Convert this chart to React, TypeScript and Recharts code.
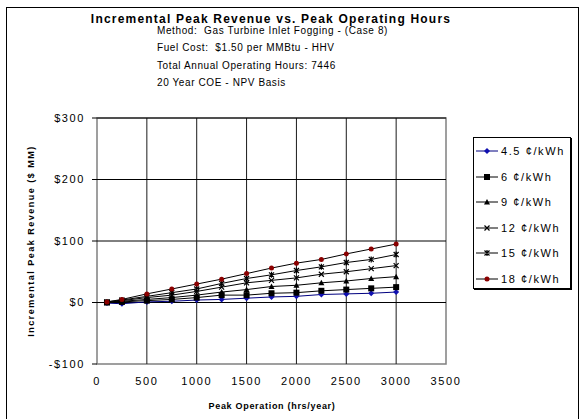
import { LineChart, Line, XAxis, YAxis, ReferenceLine, ReferenceArea } from "recharts";

const hours = [100, 250, 500, 750, 1000, 1250, 1500, 1750, 2000, 2250, 2500, 2750, 3000];
const rev45 = [-1, -2, 1, 2, 4, 5, 7, 9, 10, 13, 14, 15, 17];
const rev6 = [0, 1, 3, 5, 8, 12, 12, 15, 16, 19, 21, 23, 25];
const rev9 = [0, 2, 5, 8, 12, 17, 21, 26, 28, 32, 35, 39, 42];
const rev12 = [0, 3, 8, 12, 18, 25, 32, 36, 40, 46, 50, 55, 60];
const rev15 = [1, 4, 10, 16, 22, 31, 39, 45, 52, 58, 65, 70, 78];
const rev18 = [1, 5, 14, 22, 30, 38, 47, 56, 64, 70, 79, 87, 95];

const xTicks = [0, 500, 1000, 1500, 2000, 2500, 3000, 3500];
const yTicks = [-100, 0, 100, 200, 300];

const titleText = "Incremental Peak Revenue vs. Peak Operating Hours";
const subtitleLines = [
  "Method:  Gas Turbine Inlet Fogging - (Case 8)",
  "Fuel Cost:  $1.50 per MMBtu - HHV",
  "Total Annual Operating Hours: 7446",
  "20 Year COE - NPV Basis",
];

const series = [
  { key: "c45", name: "4.5 ¢/kWh", values: rev45, line: "#000080", shape: "diamond", color: "#1010b0" },
  { key: "c6", name: "6 ¢/kWh", values: rev6, line: "#000", shape: "square", color: "#000" },
  { key: "c9", name: "9 ¢/kWh", values: rev9, line: "#000", shape: "triangle", color: "#000" },
  { key: "c12", name: "12 ¢/kWh", values: rev12, line: "#000", shape: "x", color: "#000" },
  { key: "c15", name: "15 ¢/kWh", values: rev15, line: "#000", shape: "star", color: "#000" },
  { key: "c18", name: "18 ¢/kWh", values: rev18, line: "#000", shape: "circle", color: "#8b0000" },
];

const data = hours.map((h, i) => {
  const row: Record<string, number> = { h };
  series.forEach((s) => (row[s.key] = s.values[i]));
  return row;
});

const font = '"Liberation Sans", Arial, sans-serif';

function Marker({ shape, color, cx, cy }: { shape: string; color: string; cx: number; cy: number }) {
  if (cx == null || cy == null) return null;
  switch (shape) {
    case "diamond":
      return <path d={`M${cx},${cy - 3}L${cx + 3},${cy}L${cx},${cy + 3}L${cx - 3},${cy}Z`} fill={color} />;
    case "square":
      return <rect x={cx - 3} y={cy - 3} width={6} height={6} fill={color} />;
    case "triangle":
      return <path d={`M${cx},${cy - 3}L${cx + 3},${cy + 2.5}L${cx - 3},${cy + 2.5}Z`} fill={color} />;
    case "x":
      return (
        <path d={`M${cx - 2.5},${cy - 2.5}L${cx + 2.5},${cy + 2.5}M${cx + 2.5},${cy - 2.5}L${cx - 2.5},${cy + 2.5}`} stroke={color} strokeWidth={1.2} />
      );
    case "star":
      return (
        <path
          d={`M${cx - 2.5},${cy - 2.5}L${cx + 2.5},${cy + 2.5}M${cx + 2.5},${cy - 2.5}L${cx - 2.5},${cy + 2.5}M${cx},${cy - 3}L${cx},${cy + 3}`}
          stroke={color}
          strokeWidth={1.2}
        />
      );
    default:
      return <circle cx={cx} cy={cy} r={2.5} fill={color} />;
  }
}

const money = (v: number) => (v < 0 ? `-$${-v}` : `$${v}`);

export default function App() {
  return (
    <div style={{ position: "absolute", left: 0, top: 0, width: 583, height: 419, background: "#fff", fontFamily: font, overflow: "hidden" }}>
      <div style={{ position: "absolute", left: 6, top: 7, width: 573, height: 420, border: "1px solid #000", boxSizing: "border-box" }} />

      <div style={{ position: "absolute", left: 271, top: 19, transform: "translate(-50%, -50%)", whiteSpace: "nowrap", fontSize: 12, fontWeight: "bold", letterSpacing: 1.2, lineHeight: "14px" }}>
        {titleText}
      </div>
      {subtitleLines.map((t, i) => (
        <div key={t} style={{ position: "absolute", left: 157, top: [25, 42, 60, 77][i], fontSize: 10, letterSpacing: 0.6, lineHeight: "12px", whiteSpace: "pre" }}>
          {t}
        </div>
      ))}

      <LineChart width={583} height={419} data={data} margin={{ top: 118, right: 137, left: 37, bottom: 25 }} style={{ position: "absolute", left: 0, top: 0 }}>
        <XAxis
          dataKey="h"
          type="number"
          domain={[0, 3500]}
          ticks={xTicks}
          interval={0}
          axisLine={false}
          tickLine={false}
          tickSize={5}
          tickMargin={8}
          height={30}
          tick={{ fill: "#000", fontSize: 11, fontFamily: font, letterSpacing: 1.6 }}
        />
        <YAxis
          type="number"
          domain={[-100, 300]}
          ticks={yTicks}
          interval={0}
          width={60}
          tickFormatter={money}
          axisLine={false}
          tickLine={{ stroke: "#000" }}
          tickSize={5}
          tickMargin={7}
          tick={{ fill: "#000", fontSize: 11, fontFamily: font, letterSpacing: 1.6 }}
        />
        {xTicks.slice(1, -1).map((v) => (
          <ReferenceLine key={`x${v}`} x={v} stroke="#1a1a1a" strokeWidth={1} />
        ))}
        {yTicks.slice(1, -1).map((v) => (
          <ReferenceLine key={`y${v}`} y={v} stroke="#000" strokeWidth={1} />
        ))}
        <ReferenceLine y={300} stroke="#000" />
        <ReferenceArea x1={0} x2={3500} y1={-100} y2={300} fill="none" stroke="#808080" strokeWidth={1.5} />
        {series.map((s) => (
          <Line
            key={s.key}
            dataKey={s.key}
            stroke={s.line}
            strokeWidth={1}
            isAnimationActive={false}
            dot={(p: any) => <Marker key={`${s.key}-${p.index}`} shape={s.shape} color={s.color} cx={p.cx} cy={p.cy} />}
            activeDot={false}
          />
        ))}
      </LineChart>

      <div style={{ position: "absolute", left: 31, top: 241, transform: "translate(-50%, -50%) rotate(-90deg)", whiteSpace: "nowrap", fontSize: 9, fontWeight: "bold", letterSpacing: 1.5 }}>
        Incremental Peak Revenue ($ MM)
      </div>
      <div style={{ position: "absolute", left: 272, top: 406, transform: "translate(-50%, -50%)", whiteSpace: "nowrap", fontSize: 9, fontWeight: "bold", letterSpacing: 0.7 }}>
        Peak Operation (hrs/year)
      </div>

      <div style={{ position: "absolute", left: 473, top: 137, width: 98, height: 152, border: "1px solid #000", boxSizing: "border-box", boxShadow: "1px 1px 0 #000" }}>
        {series.map((s, i) => (
          <div key={s.key} style={{ position: "absolute", left: 0, top: 6 + i * 25.5, height: 14, display: "flex", alignItems: "center" }}>
            <svg width={26} height={14}>
              <line x1={2} y1={7} x2={24} y2={7} stroke={s.line} strokeWidth={1} />
              <Marker shape={s.shape} color={s.color} cx={13} cy={7} />
            </svg>
            <span style={{ fontSize: 11, letterSpacing: 1.6, marginLeft: 1, whiteSpace: "nowrap" }}>{s.name}</span>
          </div>
        ))}
      </div>
    </div>
  );
}
